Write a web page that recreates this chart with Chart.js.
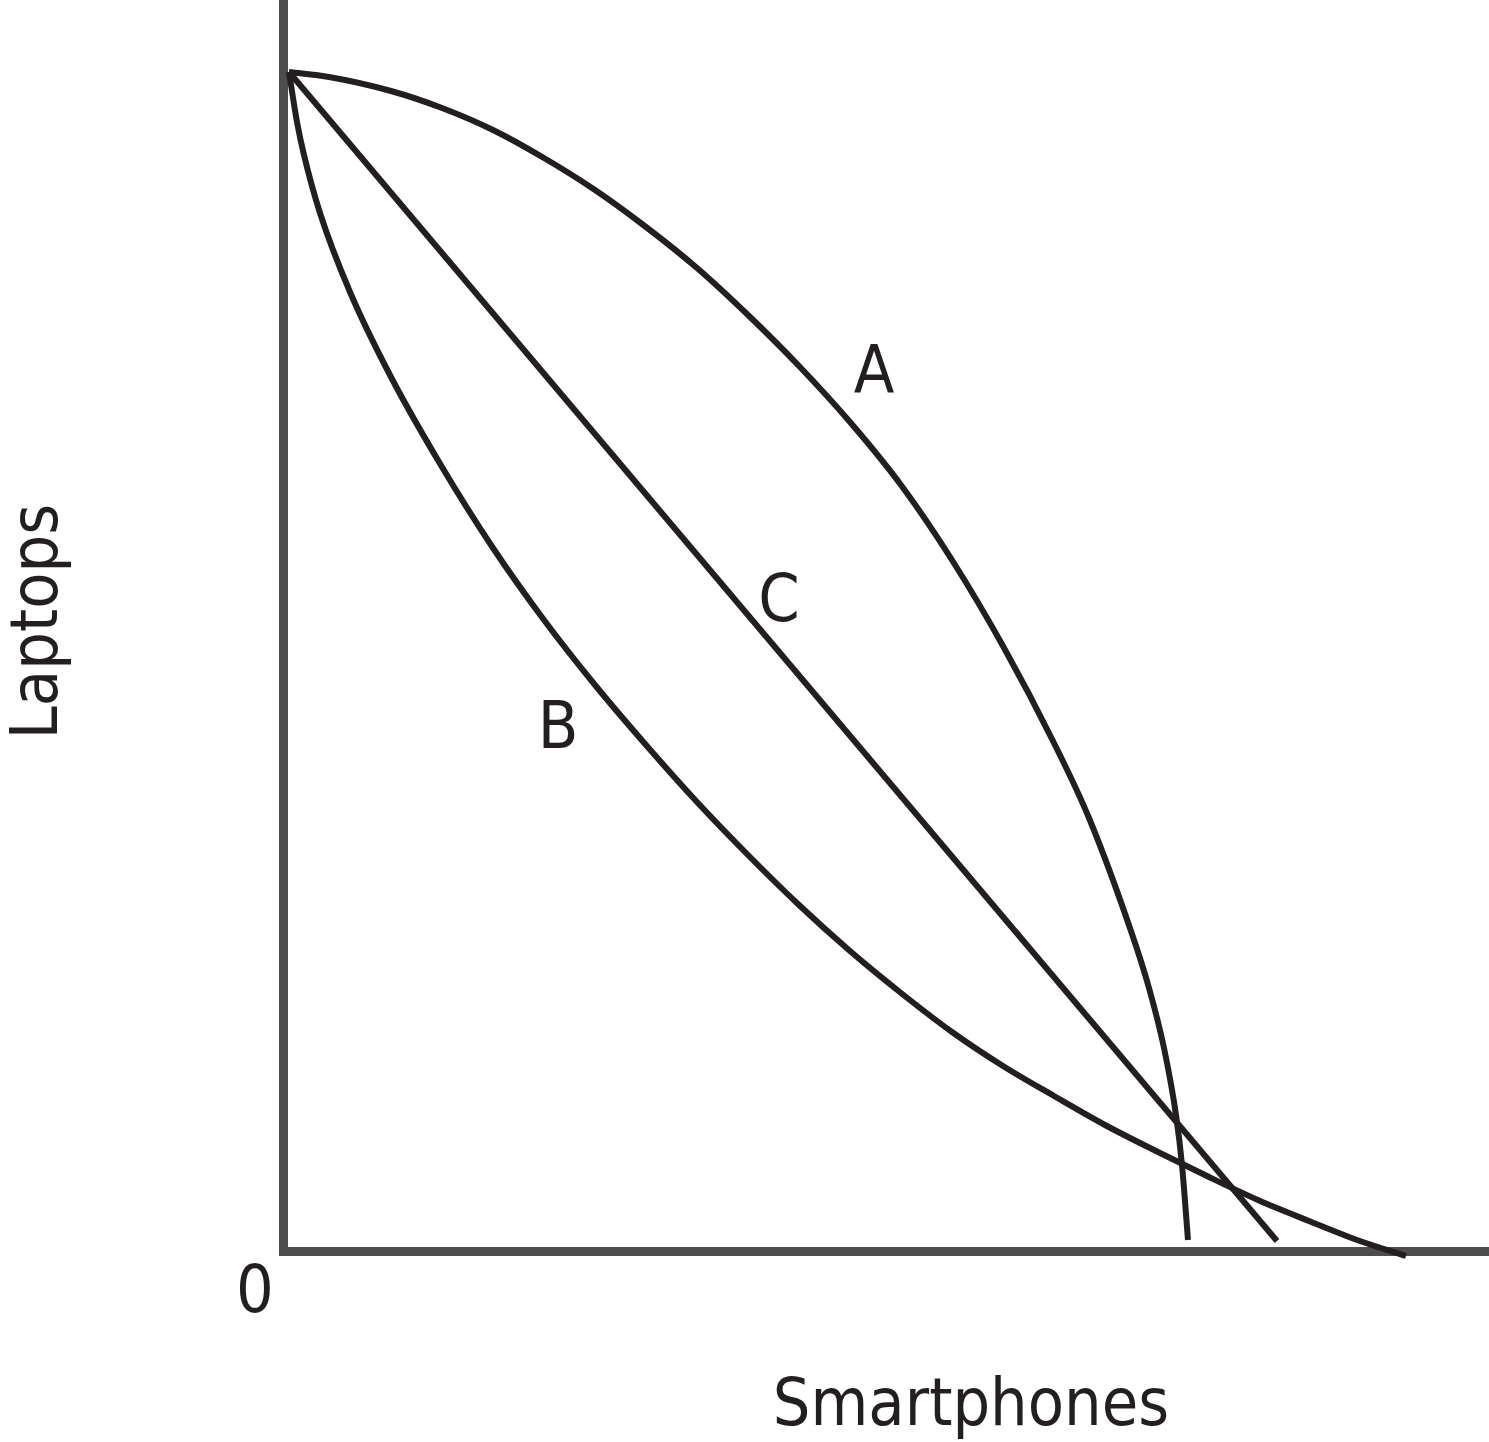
<!DOCTYPE html>
<html>
<head>
<meta charset="utf-8">
<title>Laptops vs Smartphones</title>
<script src="https://cdn.jsdelivr.net/npm/chart.js@4.4.1/dist/chart.umd.min.js"></script>
<style>
    html, body { margin: 0; padding: 0; background: #ffffff; }
    #grafica-ppf { display: block; }
</style>
</head>
<body>
<canvas id="grafica-ppf" width="1489" height="1442"></canvas>
<script>
//Curva A (concava)
const aX = [0.6, 4.6, 10.8, 15.9, 21.0, 26.1, 31.2, 36.3, 41.4, 46.5, 51.6, 56.7, 61.8, 66.9, 72.0, 77.1, 80.6, 84.9, 86.6, 88.1, 89.3, 89.9, 90.5];
const aY = [117.9, 117.4, 116.0, 114.3, 112.1, 109.3, 106.1, 102.4, 98.3, 93.6, 88.5, 82.9, 76.6, 69.1, 60.5, 50.8, 43.3, 31.7, 26.3, 20.3, 13.6, 8.6, 1.1];

//Curva B (convexa)
const bX = [0.6, 1.4, 2.1, 3.7, 6.7, 10.8, 15.9, 21.0, 26.1, 31.2, 36.3, 41.4, 46.5, 51.6, 56.7, 61.8, 66.9, 72.0, 77.1, 82.2, 87.3, 92.4, 97.5, 102.6, 107.7, 112.3];
const bY = [117.9, 112.9, 109.6, 103.8, 95.9, 87.4, 78.4, 70.3, 63.1, 56.6, 50.6, 44.9, 39.6, 34.6, 30.0, 25.8, 21.9, 18.5, 15.5, 12.6, 10.0, 7.5, 5.1, 3.0, 1.0, -0.5];

//Recta C
const cX = [0.6, 99.4];
const cY = [117.9, 1.0];

//Etiquetas de las curvas
const curveLabels = ['A', 'B', 'C'];
const labelX = [59.1, 27.5, 49.6];
const labelY = [85.9, 50.3, 63.0];

//Ejes
const xTitle = 'Smartphones';
const yTitle = 'Laptops';
const originLabel = '0';
const xMax = 120.6;
const yMax = 125.1;

const INK = '#231f20';
const AXIS = '#4d4d4d';
const FONT = '66px "DejaVu Sans Condensed", "DejaVu Sans", sans-serif';

function toPoints(xs, ys) {
    return xs.map((x, i) => ({ x: x, y: ys[i] }));
}

//Textos dibujados sobre la grafica
const textPlugin = {
    id: 'textos',
    afterDatasetsDraw(chart) {
        const ctx = chart.ctx;
        const sx = chart.scales.x;
        const sy = chart.scales.y;
        const area = chart.chartArea;
        ctx.save();
        ctx.fillStyle = INK;
        ctx.font = FONT;
        ctx.textAlign = 'center';
        ctx.textBaseline = 'alphabetic';

        curveLabels.forEach((t, i) => {
            ctx.fillText(t, sx.getPixelForValue(labelX[i]), sy.getPixelForValue(labelY[i]));
        });

        ctx.fillText(originLabel, area.left - 28, area.bottom + 61);
        ctx.fillText(xTitle, (area.left + area.right) / 2 + 85, area.bottom + 174);

        ctx.translate(area.left - 226, (area.top + area.bottom) / 2 - 4);
        ctx.rotate(-Math.PI / 2);
        ctx.fillText(yTitle, 0, 0);
        ctx.restore();
    }
};

document.addEventListener('DOMContentLoaded', function() {
    createPPFChart();
});

function createPPFChart() {
    const ctx = document.getElementById('grafica-ppf').getContext('2d');
    const lineStyle = {
        borderColor: INK,
        borderWidth: 6,
        pointRadius: 0,
        showLine: true,
        fill: false,
        clip: false
    };
    new Chart(ctx, {
        type: 'scatter',
        data: {
            datasets: [
                Object.assign({ label: 'A', data: toPoints(aX, aY), cubicInterpolationMode: 'monotone' }, lineStyle),
                Object.assign({ label: 'B', data: toPoints(bX, bY), cubicInterpolationMode: 'monotone' }, lineStyle),
                Object.assign({ label: 'C', data: toPoints(cX, cY), tension: 0 }, lineStyle)
            ]
        },
        options: {
            responsive: false,
            animation: false,
            events: [],
            layout: {
                padding: { left: 283, right: 0, top: 0, bottom: 191 }
            },
            plugins: {
                legend: { display: false },
                tooltip: { enabled: false },
                title: { display: false }
            },
            scales: {
                x: {
                    type: 'linear',
                    min: 0,
                    max: xMax,
                    ticks: { display: false },
                    grid: { display: false, drawTicks: false },
                    border: { display: true, color: AXIS, width: 9 }
                },
                y: {
                    type: 'linear',
                    min: 0,
                    max: yMax,
                    ticks: { display: false },
                    grid: { display: false, drawTicks: false },
                    border: { display: true, color: AXIS, width: 9 }
                }
            }
        },
        plugins: [textPlugin]
    });
}
</script>
</body>
</html>
